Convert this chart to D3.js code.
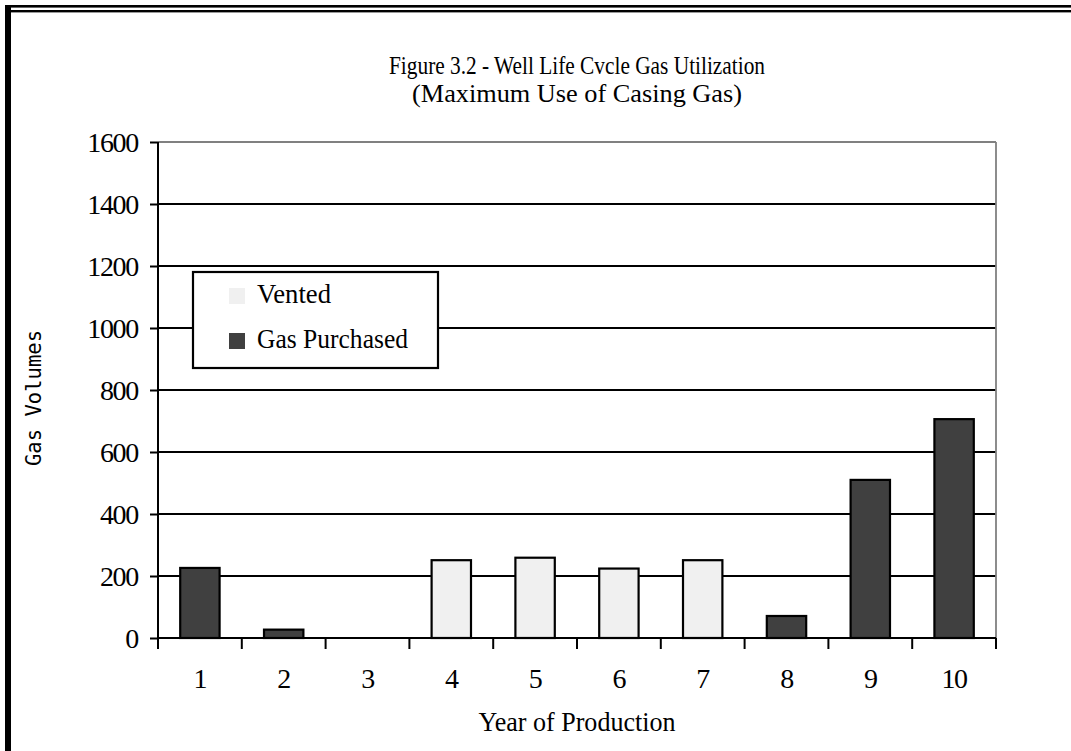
<!DOCTYPE html>
<html>
<head>
<meta charset="utf-8">
<script src="https://cdn.jsdelivr.net/npm/d3@7"></script>
<style>
  html, body { margin: 0; padding: 0; background: #fff; }
  svg { display: block; }
</style>
</head>
<body>
<svg id="chart" width="1071" height="751"></svg>
<script>
// ---- data ----
const years = ["1","2","3","4","5","6","7","8","9","10"];
const vented = [0, 0, 0, 251, 259, 224, 251, 0, 0, 0];
const gasPurchased = [226, 27, 0, 0, 0, 0, 0, 71, 510, 706];
const seriesNames = ["Vented", "Gas Purchased"];
const seriesColors = ["#f0f0f0", "#404040"];
const yTicks = [0, 200, 400, 600, 800, 1000, 1200, 1400, 1600];
const titleLines = ["Figure 3.2 - Well Life Cvcle Gas Utilization", "(Maximum Use of Casing Gas)"];
const xTitle = "Year of Production";
const yTitle = "Gas Volumes";

const svg = d3.select("#chart");
const W = 1071, H = 751;
const m = { left: 158, right: 996, top: 142, bottom: 638 };

// frame
svg.append("rect").attr("x", 5).attr("y", 5).attr("width", W - 5).attr("height", 2.6).attr("fill", "#000");
svg.append("rect").attr("x", 5).attr("y", 10).attr("width", W - 5).attr("height", 2.4).attr("fill", "#000");
svg.append("rect").attr("x", 5).attr("y", 5).attr("width", 6).attr("height", H - 5).attr("fill", "#000");

const serif = "'Liberation Serif', 'Times New Roman', serif";

// scales
const x = d3.scaleBand().domain(years).range([m.left, m.right]).paddingInner(0.53).paddingOuter(0.265);
const xCat = d3.scaleBand().domain(years).range([m.left, m.right]).padding(0);
const y = d3.scaleLinear().domain([0, 1600]).range([m.bottom, m.top]);

// gridlines
svg.append("g").selectAll("line").data(yTicks.filter(t => t > 0 && t < 1600)).join("line")
  .attr("x1", m.left).attr("x2", m.right)
  .attr("y1", d => y(d)).attr("y2", d => y(d))
  .attr("stroke", "#000").attr("stroke-width", 1.8);
// top + right border (gray)
svg.append("line").attr("x1", m.left).attr("x2", m.right).attr("y1", y(1600)).attr("y2", y(1600))
  .attr("stroke", "#808080").attr("stroke-width", 1.8);
svg.append("line").attr("x1", m.right).attr("x2", m.right).attr("y1", y(1600)).attr("y2", y(0))
  .attr("stroke", "#808080").attr("stroke-width", 1.8);

// bars
const series = [vented, gasPurchased];
series.forEach((vals, si) => {
  svg.append("g").selectAll("rect")
    .data(years.map((yr, i) => ({ yr, v: vals[i] })).filter(d => d.v > 0))
    .join("rect")
    .attr("x", d => x(d.yr))
    .attr("width", x.bandwidth())
    .attr("y", d => y(d.v))
    .attr("height", d => y(0) - y(d.v))
    .attr("fill", seriesColors[si])
    .attr("stroke", "#000").attr("stroke-width", 2.2);
});

// y axis
const yAxis = d3.axisLeft(y).tickValues(yTicks).tickSize(8).tickPadding(12).tickFormat(d3.format("d"));
const gy = svg.append("g").attr("transform", `translate(${m.left},0)`).call(yAxis);
gy.select(".domain").attr("stroke", "#000").attr("stroke-width", 2).attr("d", `M0,${y(1600)}V${y(0) + 11}`);
gy.selectAll(".tick line").attr("stroke", "#000").attr("stroke-width", 2);
gy.selectAll(".tick text").attr("font-family", serif).attr("font-size", 28).attr("fill", "#000")
  .attr("letter-spacing", -1.3).attr("dy", "0.34em");

// x axis line + ticks at category boundaries
svg.append("line").attr("x1", m.left).attr("x2", m.right).attr("y1", y(0)).attr("y2", y(0))
  .attr("stroke", "#000").attr("stroke-width", 2.2);
const bounds = years.map(d => xCat(d)).concat([m.right]);
svg.append("g").selectAll("line").data(bounds).join("line")
  .attr("x1", d => d).attr("x2", d => d).attr("y1", y(0)).attr("y2", y(0) + 11)
  .attr("stroke", "#000").attr("stroke-width", 2);
svg.append("g").selectAll("text").data(years).join("text")
  .attr("x", d => xCat(d) + xCat.bandwidth() / 2).attr("y", 688)
  .attr("text-anchor", "middle").attr("font-family", serif).attr("font-size", 28)
  .attr("letter-spacing", -1.3).text(d => d);

// titles
const cx = (m.left + m.right) / 2;
svg.append("text").attr("x", cx).attr("y", 74).attr("text-anchor", "middle")
  .attr("font-family", serif).attr("font-size", 25)
  .attr("textLength", 376).attr("lengthAdjust", "spacingAndGlyphs").text(titleLines[0]);
svg.append("text").attr("x", cx).attr("y", 102).attr("text-anchor", "middle")
  .attr("font-family", serif).attr("font-size", 25)
  .attr("textLength", 330).attr("lengthAdjust", "spacingAndGlyphs").text(titleLines[1]);
svg.append("text").attr("x", cx).attr("y", 731).attr("text-anchor", "middle")
  .attr("font-family", serif).attr("font-size", 28)
  .attr("textLength", 197).attr("lengthAdjust", "spacingAndGlyphs").text(xTitle);
svg.append("text").attr("transform", `translate(41,${398}) rotate(-90)`).attr("text-anchor", "middle")
  .attr("font-family", "'DejaVu Sans Mono', monospace").attr("font-size", 22)
  .attr("textLength", 136).attr("lengthAdjust", "spacingAndGlyphs").text(yTitle);

// legend
const lg = svg.append("g").attr("transform", "translate(193,272)");
lg.append("rect").attr("width", 245).attr("height", 96).attr("fill", "#fff").attr("stroke", "#000").attr("stroke-width", 2.2);
const legendWidths = [74, 151];
seriesNames.forEach((name, i) => {
  lg.append("rect").attr("x", 36).attr("y", 16 + i * 45).attr("width", 16).attr("height", 16).attr("fill", seriesColors[i]);
  lg.append("text").attr("x", 64).attr("y", 31 + i * 45).attr("font-family", serif).attr("font-size", 27)
    .attr("textLength", legendWidths[i]).attr("lengthAdjust", "spacingAndGlyphs").text(name);
});
</script>
</body>
</html>
